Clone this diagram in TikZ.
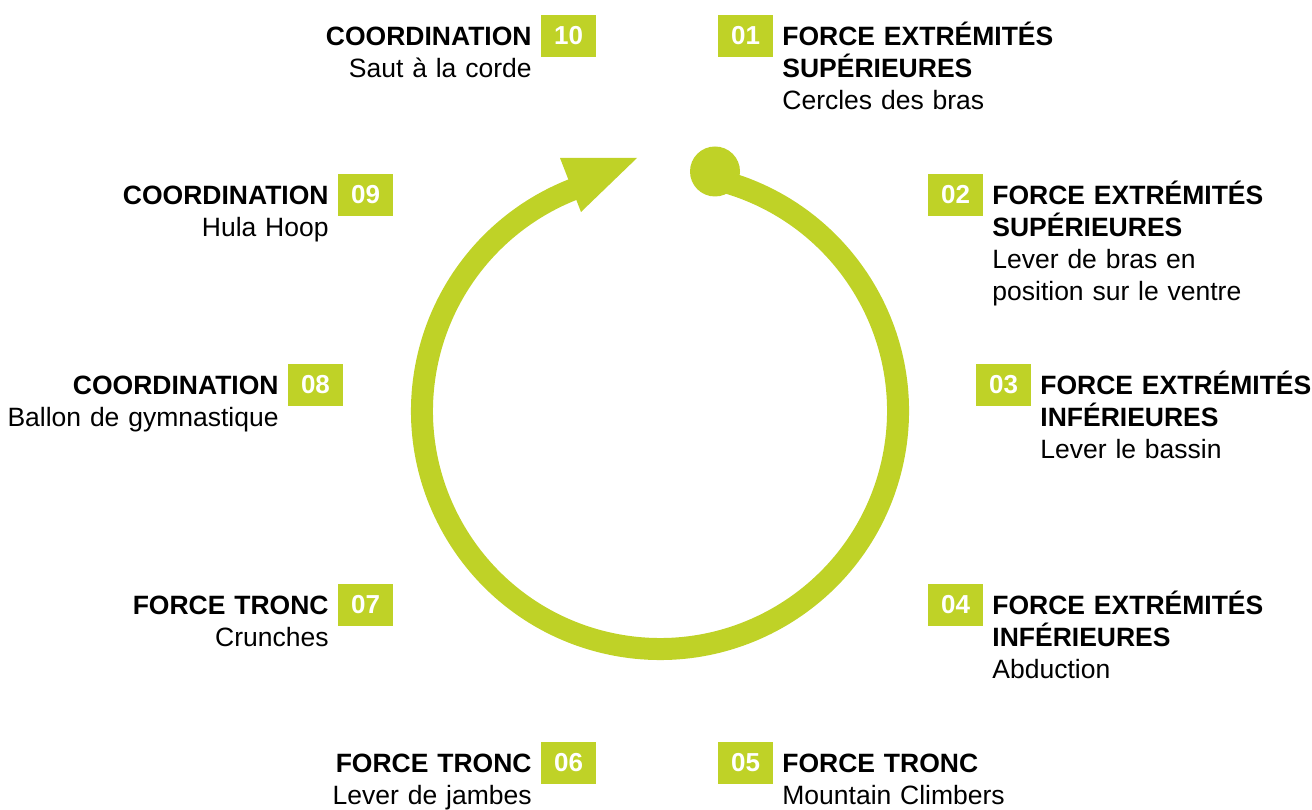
\documentclass[tikz,border=0pt]{standalone}
\usepackage{fontspec}
\setmainfont{Liberation Sans}
\usepackage{xcolor}
\usetikzlibrary{positioning,calc}
\definecolor{ringgreen}{HTML}{BFD227}

\begin{document}
\begin{tikzpicture}[x=1pt,y=1pt]
  \tikzstyle{badge} = [rectangle, fill=ringgreen, text=white, font=\bfseries\fontsize{26}{26}\selectfont, minimum width=55pt, minimum height=42pt, inner sep=0pt]
  \tikzstyle{descr} = [text width=330pt, inner sep=0pt, font=\fontsize{26.5}{32}\selectfont]
  \tikzstyle{ring} = [draw=ringgreen, line width=22pt]

  \useasboundingbox (0,0) rectangle (1312,810);

  % cycle
  \coordinate (c) at (660,399);
  \draw [ring] ([shift={(77:238)}]c) arc[start angle=77, end angle=-249, radius=238];
  \node [circle, fill=ringgreen, minimum size=50pt, inner sep=0pt] (start) at (715,638.5) {};
  \coordinate (tip) at (637,652);
  \coordinate (backa) at (560,652);
  \coordinate (backb) at (581,598);
  \fill [ringgreen] (backa) -- (tip) -- (backb) -- cycle;

  % badges
  \node [badge] (b01) at (745.5,774) {01};
  \node [badge] (b02) at (955.5,615) {02};
  \node [badge] (b03) at (1003.5,425) {03};
  \node [badge] (b04) at (955.5,205) {04};
  \node [badge] (b05) at (745.5,47) {05};
  \node [badge] (b06) at (568.5,47) {06};
  \node [badge] (b07) at (365.5,205) {07};
  \node [badge] (b08) at (315.5,425) {08};
  \node [badge] (b09) at (365.5,615) {09};
  \node [badge] (b10) at (568.5,774) {10};

  % right side
  \node [descr, align=left, anchor=base west] (t01) at ($(b01.east)+(9,-10)$) {\textbf{FORCE EXTRÉMITÉS}\\\textbf{SUPÉRIEURES}\\Cercles des bras};
  \node [descr, align=left, anchor=base west] (t02) at ($(b02.east)+(9,-10)$) {\textbf{FORCE EXTRÉMITÉS}\\\textbf{SUPÉRIEURES}\\Lever de bras en\\position sur le ventre};
  \node [descr, align=left, anchor=base west] (t03) at ($(b03.east)+(9,-10)$) {\textbf{FORCE EXTRÉMITÉS}\\\textbf{INFÉRIEURES}\\Lever le bassin};
  \node [descr, align=left, anchor=base west] (t04) at ($(b04.east)+(9,-10)$) {\textbf{FORCE EXTRÉMITÉS}\\\textbf{INFÉRIEURES}\\Abduction};
  \node [descr, align=left, anchor=base west] (t05) at ($(b05.east)+(9,-10)$) {\textbf{FORCE TRONC}\\Mountain Climbers};

  % left side
  \node [descr, align=right, anchor=base east] (t06) at ($(b06.west)+(-9,-10)$) {\textbf{FORCE TRONC}\\Lever de jambes};
  \node [descr, align=right, anchor=base east] (t07) at ($(b07.west)+(-9,-10)$) {\textbf{FORCE TRONC}\\Crunches};
  \node [descr, align=right, anchor=base east] (t08) at ($(b08.west)+(-9,-10)$) {\textbf{COORDINATION}\\Ballon de gymnastique};
  \node [descr, align=right, anchor=base east] (t09) at ($(b09.west)+(-9,-10)$) {\textbf{COORDINATION}\\Hula Hoop};
  \node [descr, align=right, anchor=base east] (t10) at ($(b10.west)+(-9,-10)$) {\textbf{COORDINATION}\\Saut à la corde};
\end{tikzpicture}
\end{document}
